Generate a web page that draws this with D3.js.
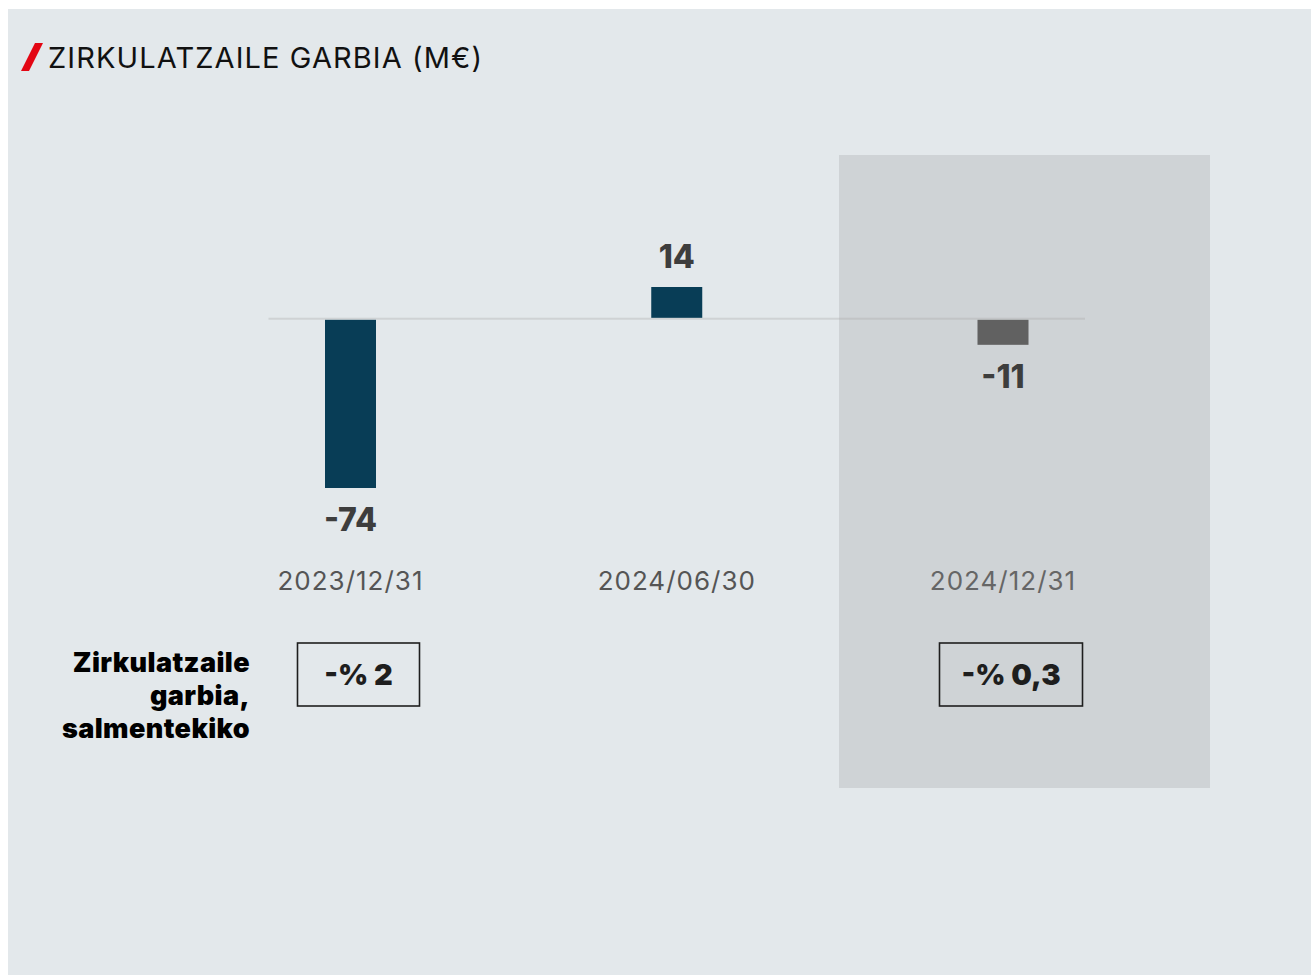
<!DOCTYPE html>
<html>
<head>
<meta charset="utf-8">
<script src="https://cdn.jsdelivr.net/npm/d3@7"></script>
<style>
  html, body { margin: 0; padding: 0; background: #fff; }
  svg { display: block; font-family: Inter, Roboto, sans-serif; }
</style>
</head>
<body>
<div id="chart"></div>
<script>
// chart data
const categories = ["2023/12/31", "2024/06/30", "2024/12/31"];
const values = [-74, 14, -11];
const ratioLabels = ["-% 2", null, "-% 0,3"];
const highlighted = [false, false, true];
const title = "ZIRKULATZAILE GARBIA (M€)";
const sideLabel = ["Zirkulatzaile", "garbia,", "salmentekiko"];

const W = 1311, H = 975;
const svg = d3.select("#chart").append("svg").attr("width", W).attr("height", H);

// panel background
svg.append("rect").attr("x", 8).attr("y", 9).attr("width", W - 8).attr("height", H - 9).attr("fill", "#e3e8eb");

// title with red slash
svg.append("path").attr("d", "M35,43 L43,43 L29,71 L21,71 Z").attr("fill", "#e30613");
svg.append("text")
  .attr("x", 48).attr("y", 68)
  .attr("font-size", 29).attr("letter-spacing", 1.1).attr("fill", "#111")
  .text(title);

const x = d3.scalePoint().domain(categories).range([350.5, 1003]);
const y = d3.scaleLinear().domain([-74, 14]).range([487, 287]);
const barW = 51;

// shaded box behind the last period
categories.forEach((c, i) => {
  if (!highlighted[i]) return;
  svg.append("rect")
    .attr("x", x(c) - 164).attr("y", 155)
    .attr("width", 371).attr("height", 633)
    .attr("fill", "#cfd3d6");
});

// zero line
svg.append("line")
  .attr("x1", x(categories[0]) - 82).attr("x2", x(categories[2]) + 82)
  .attr("y1", y(0)).attr("y2", y(0))
  .attr("stroke", "#a8a8a8").attr("stroke-opacity", 0.35).attr("stroke-width", 2);

// bars
svg.selectAll("rect.bar")
  .data(values)
  .join("rect")
  .attr("class", "bar")
  .attr("x", (d, i) => x(categories[i]) - barW / 2)
  .attr("y", d => d >= 0 ? y(d) : y(0) + 1)
  .attr("width", barW)
  .attr("height", d => d >= 0 ? y(0) - 1 - y(d) : y(d) - y(0))
  .attr("fill", (d, i) => highlighted[i] ? "#616161" : "#083d56");

// value labels
svg.selectAll("text.value")
  .data(values)
  .join("text")
  .attr("class", "value")
  .attr("x", (d, i) => x(categories[i]))
  .attr("y", d => d >= 0 ? y(d) - 19 : y(d) + 44)
  .attr("text-anchor", "middle")
  .attr("font-size", 32).attr("font-weight", 800)
  .attr("fill", "#3d3d3d")
  .text(d => d);

// category labels
svg.selectAll("text.cat")
  .data(categories)
  .join("text")
  .attr("class", "cat")
  .attr("x", d => x(d))
  .attr("y", 590)
  .attr("text-anchor", "middle")
  .attr("font-size", 26).attr("letter-spacing", 1)
  .attr("fill", (d, i) => highlighted[i] ? "#666" : "#555")
  .text(d => d);

// side label
svg.append("text")
  .attr("x", 250).attr("y", 672)
  .attr("text-anchor", "end")
  .attr("font-size", 27).attr("font-weight", 900).attr("letter-spacing", 0.4).attr("fill", "#000")
  .selectAll("tspan")
  .data(sideLabel)
  .join("tspan")
  .attr("x", 250)
  .attr("dy", (d, i) => i === 0 ? 0 : 33)
  .text(d => d);

// ratio boxes
const boxW = [122, null, 143];
categories.forEach((c, i) => {
  if (!ratioLabels[i]) return;
  const cx = x(c) + 8;
  svg.append("rect")
    .attr("x", cx - boxW[i] / 2).attr("y", 643)
    .attr("width", boxW[i]).attr("height", 63)
    .attr("fill", "none").attr("stroke", "#1e1e1e").attr("stroke-width", 1.6);
  svg.append("text")
    .attr("x", cx).attr("y", 685)
    .attr("text-anchor", "middle")
    .attr("font-size", 29).attr("font-weight", 900).attr("fill", "#1e1e1e")
    .text(ratioLabels[i]);
});
</script>
</body>
</html>
